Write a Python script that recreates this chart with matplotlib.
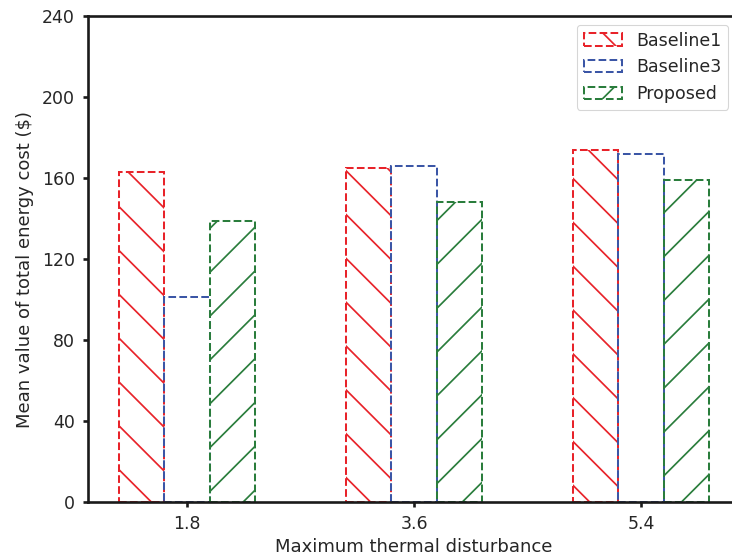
import numpy as np
import matplotlib
matplotlib.use("Agg")
import matplotlib.pyplot as plt

# ---- data ----
categories = ["1.8", "3.6", "5.4"]
series_names = ["Baseline1", "Baseline3", "Proposed"]
baseline1 = [163, 165, 174]
baseline3 = [101, 166, 172]
proposed = [139, 148, 159]
yticks = [0, 40, 80, 120, 160, 200, 240]

colors = ["#e8232a", "#3b56a6", "#2a7d3c"]
hatches = ["\\\\", "", "//"]

DPI = 263
plt.rcParams["hatch.linewidth"] = 0.47
plt.rcParams["lines.scale_dashes"] = False
plt.rcParams["font.family"] = ["DejaVu Sans"]
FS = 4.75
LFS = 4.93
TXT = "#262626"

fig = plt.figure(figsize=(732 / DPI, 559 / DPI), dpi=DPI)
ax = fig.add_axes([88 / 732, (559 - 502) / 559, (731 - 88) / 732, (502 - 16) / 559])

x = np.arange(len(categories))
width = 0.2
dash = (0, (2.1, 0.9))
for i, (name, vals) in enumerate(zip(series_names, [baseline1, baseline3, proposed])):
    ax.bar(x + (i - 1) * width, vals, width, label=name, fill=False,
           edgecolor=colors[i], hatch=hatches[i], linewidth=0.55, linestyle=dash)

ax.set_xlim(-0.436, 2.396)
ax.set_ylim(0, 240)
ax.set_xticks(x)
ax.set_xticklabels(categories)
ax.set_yticks(yticks)
ax.tick_params(axis="both", labelsize=FS, length=1.4, width=0.72, colors="#1a1a1a",
               labelcolor=TXT, pad=2.2)
for s in ["left", "bottom", "top"]:
    ax.spines[s].set_linewidth(0.72)
    ax.spines[s].set_color("#1a1a1a")
ax.spines["right"].set_visible(False)

ax.set_xlabel("Maximum thermal disturbance", fontsize=LFS, color=TXT, labelpad=1.2)
ax.set_ylabel("Mean value of total energy cost ($)", fontsize=LFS, color=TXT, labelpad=2.2)
ax.xaxis.label.set_x(0.507)
ax.yaxis.label.set_y(0.479)

leg = ax.legend(loc="upper right", bbox_to_anchor=(1.009, 1.0), fontsize=FS,
                frameon=True, handlelength=2.2, borderaxespad=0.5)
leg.get_frame().set_linewidth(0.3)
for t in leg.get_texts():
    t.set_color(TXT)

fig.savefig("out.png", dpi=DPI)
